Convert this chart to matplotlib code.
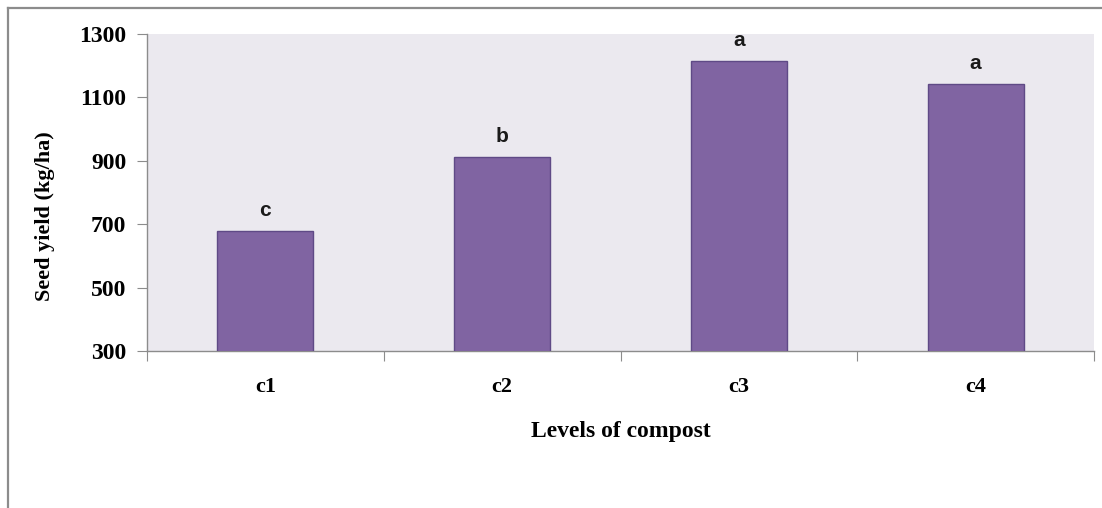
import matplotlib
matplotlib.use("Agg")
import matplotlib.pyplot as plt
from matplotlib.lines import Line2D

categories = ["c1", "c2", "c3", "c4"]
seed_yield = [678, 912, 1215, 1142]
letters = ["c", "b", "a", "a"]
yticks = [300, 500, 700, 900, 1100, 1300]

W, H = 1102, 508
fig = plt.figure(figsize=(W / 100, H / 100), dpi=100)
fig.patch.set_facecolor("white")

# outer frame (left and top border)
fig.add_artist(Line2D([8 / W, 8 / W], [0, 1 - 8 / H], color="#8c8c8c", lw=1.6, transform=fig.transFigure))
fig.add_artist(Line2D([8 / W, 1], [1 - 8 / H, 1 - 8 / H], color="#8c8c8c", lw=1.6, transform=fig.transFigure))

ax = fig.add_axes([147 / W, (H - 351) / H, 947 / W, 317 / H])
ax.set_facecolor("#ebe9ef")

x = list(range(len(categories)))
ax.bar(x, seed_yield, width=0.405, bottom=0, color="#8064a2", edgecolor="#5f4a86", linewidth=1.0, zorder=3)
ax.set_ylim(300, 1300)
ax.set_xlim(-0.5, len(categories) - 0.5)

for xi, v, l in zip(x, seed_yield, letters):
    ax.text(xi, v + 36, l, ha="center", va="bottom", fontsize=15, fontweight="bold",
            family="Liberation Sans", color="#1a1a1a")

for s in ["top", "right"]:
    ax.spines[s].set_visible(False)
for s in ["left", "bottom"]:
    ax.spines[s].set_color("#8c8c8c")
    ax.spines[s].set_linewidth(1.0)

ax.set_yticks(yticks)
ax.set_yticklabels([str(t) for t in yticks], fontsize=17, fontweight="bold", family="Liberation Serif")
ax.tick_params(axis="y", length=7, color="#8c8c8c", pad=8)

ax.set_xticks([i - 0.5 for i in range(len(categories) + 1)])
ax.set_xticklabels([])
ax.set_xticks(x, minor=True)
ax.set_xticklabels(categories, minor=True, fontsize=16, fontweight="bold", family="Liberation Serif")
ax.tick_params(axis="x", which="major", length=7, color="#8c8c8c")
ax.tick_params(axis="x", which="minor", length=0, pad=19)

ax.set_xlabel("Levels of compost", fontsize=17, fontweight="bold", family="Liberation Serif")
ax.xaxis.set_label_coords(0.5, -(432 - 351) / 317, transform=ax.transAxes)
ax.xaxis.label.set_va("center")
ax.set_ylabel("Seed yield (kg/ha)", fontsize=16, fontweight="bold", family="Liberation Serif")
ax.yaxis.set_label_coords(-(147 - 45) / 947, (351 - 216) / 317, transform=ax.transAxes)
ax.yaxis.label.set_va("center")

fig.savefig("out.png", dpi=100)
